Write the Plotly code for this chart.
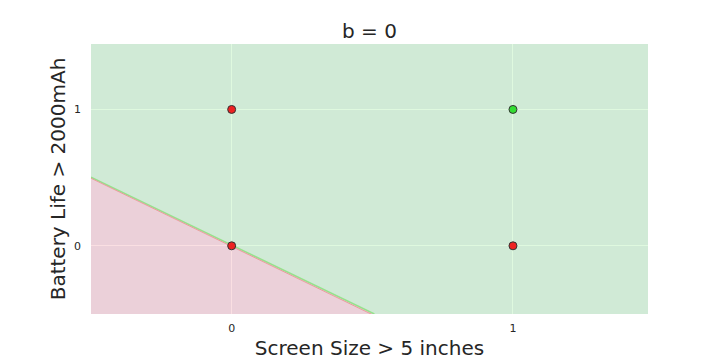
import plotly.graph_objects as go

# Data: AND gate inputs and labels
screen_size = [0, 0, 1, 1]
battery_life = [0, 1, 0, 1]
labels = [0, 0, 0, 1]
weights = [1.0, 1.0]
bias = 0.0
tick_vals = [0, 1]
x_range = [-0.5, 1.48]
y_range = [-0.5, 1.48]

FONT = "DejaVu Sans"

def boundary_y(x, b):
    return -(weights[0] * x + b) / weights[1]

x0, x1 = x_range
y0, y1 = y_range
# x where the boundary meets the bottom edge
x_bottom = -(weights[1] * y0 + bias) / weights[0]
red_poly_x = [x0, x0, x_bottom, x0]
red_poly_y = [y0, boundary_y(x0, bias), y0, y0]
green_poly_x = [x0, x0, x1, x1, x_bottom, x0]
green_poly_y = [boundary_y(x0, bias), y1, y1, y0, y0, boundary_y(x0, bias)]

fig = go.Figure()
fig.add_trace(go.Scatter(x=green_poly_x, y=green_poly_y, fill="toself", mode="none",
                         fillcolor="rgba(150,236,150,0.30)", hoverinfo="skip", showlegend=False))
fig.add_trace(go.Scatter(x=red_poly_x, y=red_poly_y, fill="toself", mode="none",
                         fillcolor="rgba(240,150,160,0.30)", hoverinfo="skip", showlegend=False))
# boundary edges
dy = 1.0 / 137
fig.add_trace(go.Scatter(x=[x0, x_bottom + dy], y=[boundary_y(x0, bias) + dy * 0.5, y0], mode="lines",
                         line=dict(color="rgba(150,225,140,1)", width=1.5), hoverinfo="skip", showlegend=False))
fig.add_trace(go.Scatter(x=[x0, x_bottom], y=[boundary_y(x0, bias) - dy * 0.6, y0 - dy * 0.6], mode="lines",
                         line=dict(color="rgba(235,150,150,0.9)", width=1), hoverinfo="skip", showlegend=False))

colors = ["#33dd33" if l == 1 else "#ee2222" for l in labels]
fig.add_trace(go.Scatter(x=screen_size, y=battery_life, mode="markers",
                         marker=dict(size=8, color=colors, line=dict(color="#333333", width=1)),
                         showlegend=False))

# page body has an 8px margin, so the figure is 712x352 offset by (8, 8)
fig.update_layout(
    width=712, height=352,
    margin=dict(l=83, r=72, t=36, b=46, autoexpand=False),
    paper_bgcolor="white",
    plot_bgcolor="#eaeaf2",
    font=dict(family=FONT, color="#262626"),
    title=dict(text=f"b = {bias:g}", xref="paper", x=0.5, xanchor="center",
               yref="container", y=1 - 23 / 352, yanchor="middle",
               font=dict(size=20, family=FONT, color="#262626"), automargin=False),
)
fig.update_xaxes(range=x_range, tickvals=tick_vals, showgrid=True, gridcolor="white", gridwidth=1,
                 zeroline=False, showline=False, ticks="", automargin=False, ticklabelstandoff=6,
                 tickfont=dict(size=11, color="#262626"),
                 title=dict(text="Screen Size > 5 inches", font=dict(size=20, color="#262626"), standoff=6))
fig.update_yaxes(range=y_range, tickvals=tick_vals, showgrid=True, gridcolor="white", gridwidth=1,
                 zeroline=False, showline=False, ticks="", automargin=False, ticklabelstandoff=9,
                 tickfont=dict(size=11, color="#262626"),
                 title=dict(text="Battery Life > 2000mAh", font=dict(size=20, color="#262626"), standoff=3))

fig.write_html("out.html")
